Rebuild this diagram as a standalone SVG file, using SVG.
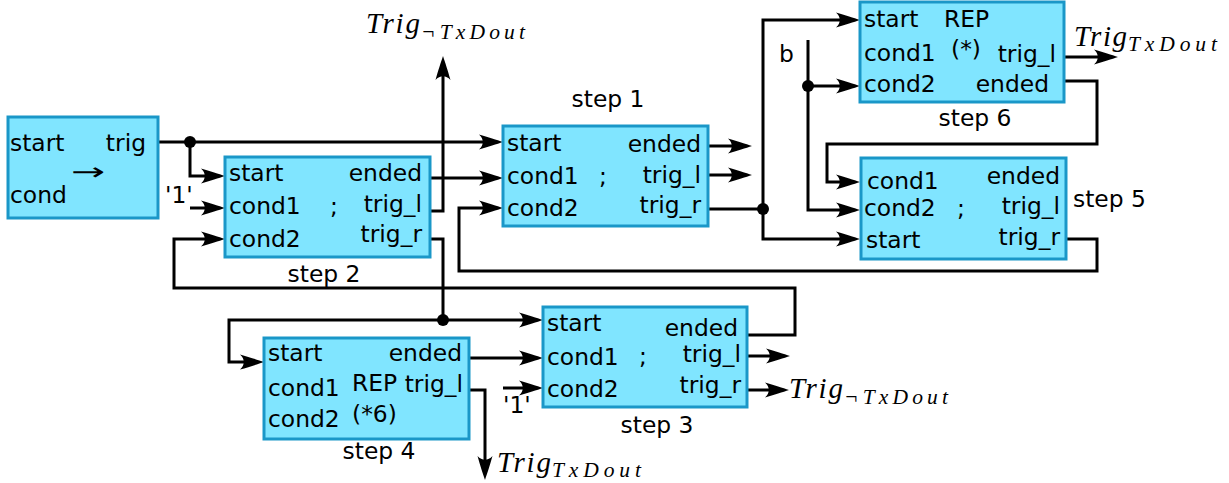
<svg xmlns="http://www.w3.org/2000/svg" width="1229" height="483" viewBox="0 0 1229 483">
<style>
.box{fill:#80e5ff;stroke:#1a97c8;stroke-width:3}
.t{font-family:"DejaVu Sans",sans-serif;font-size:23.4px;fill:#000}
.e{text-anchor:end}
.m{text-anchor:middle}
.c{fill:none;stroke:#000;stroke-width:3}
.a{marker-end:url(#arr)}
.dot{fill:#000}
.mt{font-family:"Liberation Serif",serif;font-style:italic;font-size:29px;fill:#000}
.ms{font-family:"Liberation Serif",serif;font-style:italic;font-size:21.5px;fill:#000}
</style>
<defs>
<marker id="arr" viewBox="-20 -9 28 18" refX="0" refY="0" markerWidth="28" markerHeight="18" markerUnits="userSpaceOnUse" orient="auto" overflow="visible">
<path d="M6,0 C0,-2 -9,-5 -18,-7.5 C-13,-3 -13,3 -18,7.5 C-9,5 0,2 6,0 Z" fill="#000"/>
</marker>
</defs>
<g id="connectors">
<path class="c a" d="M158,142 H497"/>
<path class="c a" d="M190,142 V176 H219"/>
<path class="c a" d="M190,208 H219"/>
<path class="c a" d="M430,178 H497"/>
<path class="c a" d="M430,211 H443 V62"/>
<path class="c" d="M430,239 H443 V320"/>
<path class="c a" d="M443,320 H537"/>
<path class="c a" d="M443,320 H229 V362 H258"/>
<path class="c a" d="M747,335 H795 V288 H174 V239 H219"/>
<path class="c a" d="M469,358 H537"/>
<path class="c a" d="M503,388 H537"/>
<path class="c a" d="M747,356 H784"/>
<path class="c a" d="M747,390 H783"/>
<path class="c a" d="M469,390 H485 V474"/>
<path class="c a" d="M708,146 H746"/>
<path class="c a" d="M708,175 H746"/>
<path class="c" d="M708,209 H763"/>
<path class="c a" d="M763,209 V20 H854"/>
<path class="c a" d="M763,209 V239 H854"/>
<path class="c a" d="M808,40 V210 H854"/>
<path class="c a" d="M808,86 H854"/>
<path class="c a" d="M1064,81 H1097 V144 H827 V182 H854"/>
<path class="c a" d="M1064,57 H1112"/>
<path class="c a" d="M1066,239 H1097 V271 H459 V208 H497"/>
<circle class="dot" cx="190" cy="142" r="6"/>
<circle class="dot" cx="443" cy="320" r="6"/>
<circle class="dot" cx="763" cy="209" r="6"/>
<circle class="dot" cx="808" cy="86" r="6"/>
</g>
<g id="node0">
<rect class="box" x="8" y="117" width="150" height="101"/>
<text class="t" x="10" y="151">start</text>
<text class="t e" x="146" y="151">trig</text>
<text class="t" x="10" y="203">cond</text>
<text transform="translate(71,180) scale(1.7,1)" x="0" y="0" font-family="DejaVu Sans, sans-serif" font-size="24">→</text>
</g>
<g id="step1">
<rect class="box" x="503" y="126" width="205" height="100"/>
<text class="t" x="507" y="151">start</text>
<text class="t" x="507" y="184">cond1</text>
<text class="t" x="507" y="216">cond2</text>
<text class="t" x="599" y="184">;</text>
<text class="t e" x="701" y="152">ended</text>
<text class="t e" x="701" y="183">trig_l</text>
<text class="t e" x="701" y="213">trig_r</text>
<text class="t m" x="608" y="107">step 1</text>
</g>
<g id="step2">
<rect class="box" x="225" y="157" width="205" height="100"/>
<text class="t" x="229" y="181">start</text>
<text class="t" x="229" y="214">cond1</text>
<text class="t" x="229" y="247">cond2</text>
<text class="t" x="330" y="214">;</text>
<text class="t e" x="422" y="181">ended</text>
<text class="t e" x="422" y="212">trig_l</text>
<text class="t e" x="422" y="242">trig_r</text>
<text class="t m" x="324" y="282">step 2</text>
<text class="t" x="165" y="203">'1'</text>
</g>
<g id="step3">
<rect class="box" x="543" y="307" width="204" height="100"/>
<text class="t" x="547" y="331">start</text>
<text class="t" x="547" y="365">cond1</text>
<text class="t" x="547" y="397">cond2</text>
<text class="t" x="639" y="364">;</text>
<text class="t e" x="738" y="336">ended</text>
<text class="t e" x="741" y="362">trig_l</text>
<text class="t e" x="741" y="393">trig_r</text>
<text class="t m" x="657" y="433">step 3</text>
<text class="t" x="503" y="413">'1'</text>
</g>
<g id="step4">
<rect class="box" x="264" y="338" width="205" height="101"/>
<text class="t" x="268" y="361">start</text>
<text class="t" x="268" y="396">cond1</text>
<text class="t" x="268" y="427">cond2</text>
<text class="t" x="352" y="391">REP</text>
<text class="t" x="352" y="422">(*6)</text>
<text class="t e" x="462" y="361">ended</text>
<text class="t e" x="463" y="392">trig_l</text>
<text class="t m" x="379" y="459">step 4</text>
</g>
<g id="step5">
<rect class="box" x="861" y="158" width="205" height="101"/>
<text class="t" x="867" y="189">cond1</text>
<text class="t" x="864" y="216">cond2</text>
<text class="t" x="866" y="248">start</text>
<text class="t" x="957" y="216">;</text>
<text class="t e" x="1060" y="184">ended</text>
<text class="t e" x="1060" y="214">trig_l</text>
<text class="t e" x="1060" y="245">trig_r</text>
<text class="t" x="1073" y="207">step 5</text>
</g>
<g id="step6">
<rect class="box" x="860" y="2" width="204" height="100"/>
<text class="t" x="864" y="27">start</text>
<text class="t" x="944" y="27">REP</text>
<text class="t" x="864" y="61">cond1</text>
<text class="t" x="951" y="57">(*)</text>
<text class="t e" x="1056" y="62">trig_l</text>
<text class="t" x="864" y="92">cond2</text>
<text class="t e" x="1049" y="92">ended</text>
<text class="t m" x="975" y="126">step 6</text>
<text class="t" x="779" y="62">b</text>
</g>
<g id="labels">
<text class="mt" x="366" y="33" textLength="54" lengthAdjust="spacing">Trig</text>
<text class="ms" x="421" y="39" textLength="104" lengthAdjust="spacing">¬TxDout</text>
<text class="mt" x="1074" y="46" textLength="53" lengthAdjust="spacing">Trig</text>
<text class="ms" x="1128" y="51" textLength="89" lengthAdjust="spacing">TxDout</text>
<text class="mt" x="789" y="398" textLength="54" lengthAdjust="spacing">Trig</text>
<text class="ms" x="844" y="404" textLength="104" lengthAdjust="spacing">¬TxDout</text>
<text class="mt" x="497" y="472" textLength="54" lengthAdjust="spacing">Trig</text>
<text class="ms" x="552" y="477" textLength="89" lengthAdjust="spacing">TxDout</text>
</g>
</svg>
